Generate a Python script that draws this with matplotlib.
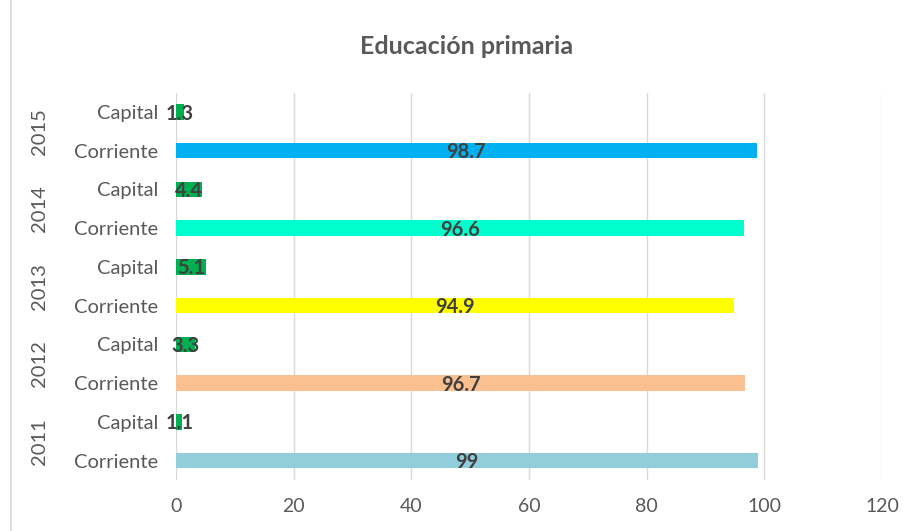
import matplotlib.pyplot as plt
import matplotlib.transforms as mtransforms
from matplotlib.patches import Rectangle

plt.rcParams['font.family'] = ['Lato', 'DejaVu Sans']

# datos
years = ["2011", "2012", "2013", "2014", "2015"]
corriente = [99, 96.7, 94.9, 96.6, 98.7]
capital = [1.1, 3.3, 5.1, 4.4, 1.3]
corriente_colors = ["#92CDDC", "#FAC090", "#FFFF00", "#00FFCC", "#00B0F0"]
capital_color = "#00B050"

fig = plt.figure(figsize=(9.11, 5.31), dpi=100)
ax = fig.add_axes([0.1932, 0.096, 0.775, 0.7296])

# borde del área del gráfico
fig.patches.append(Rectangle((11 / 911, -0.05), 1.2, 1.2, transform=fig.transFigure,
                             fill=False, edgecolor="#D9D9D9", linewidth=1.2))

labels = []
pos = []
vals = []
cols = []
for i, y in enumerate(years):
    pos += [2 * i, 2 * i + 1]
    vals += [corriente[i], capital[i]]
    cols += [corriente_colors[i], capital_color]
    labels += ["Corriente", "Capital"]

bars = ax.barh(pos, vals, height=0.4, color=cols, zorder=2)
for b, v in zip(bars, vals):
    ax.text(b.get_x() + b.get_width() / 2, b.get_y() + b.get_height() / 2 - 0.04, f"{v:g}",
            ha="center", va="center", fontsize=14.5, fontweight="bold", color="#404040", zorder=3)

ax.set_xlim(0, 120)
ax.set_ylim(-0.5, 9.5)
ax.set_xticks(range(0, 121, 20))
ax.set_yticks(pos)
ax.set_yticklabels(labels)
ax.tick_params(axis="y", length=0, labelsize=14.5, labelcolor="#595959", pad=13)
ax.tick_params(axis="x", length=0, labelsize=14, labelcolor="#595959", pad=13)
ax.grid(axis="x", color="#D9D9D9", linewidth=1, zorder=0)
for s in ax.spines.values():
    s.set_visible(False)

trans = mtransforms.blended_transform_factory(fig.transFigure, ax.transData)
for i, y in enumerate(years):
    ax.text(40 / 911, 2 * i + 0.5, y, transform=trans, rotation=90, ha="center", va="center",
            fontsize=14.5, color="#595959")

fig.text(467 / 911, 1 - 47 / 531, "Educación primaria", ha="center", va="center",
         fontsize=18, fontweight="bold", color="#595959")

fig.savefig("out.png", dpi=100)
